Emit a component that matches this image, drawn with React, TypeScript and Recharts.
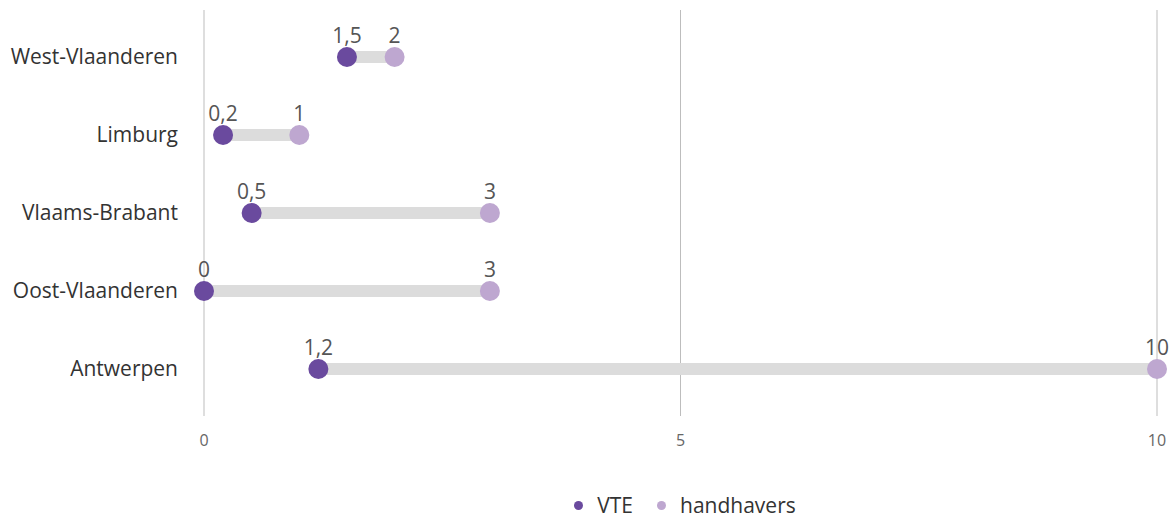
import { ComposedChart, Bar, Line, XAxis, YAxis, CartesianGrid, Legend, LabelList } from 'recharts';

const provinces = ['West-Vlaanderen', 'Limburg', 'Vlaams-Brabant', 'Oost-Vlaanderen', 'Antwerpen'];
const vte = [1.5, 0.2, 0.5, 0, 1.2];
const handhavers = [2, 1, 3, 3, 10];
const xTicks = [0, 5, 10];

const VTE_COLOR = '#6a4a9e';
const HAND_COLOR = '#bea7d0';
const FONT = '"Open Sans", sans-serif';

const data = provinces.map((name, i) => ({
  name,
  vte: vte[i],
  handhavers: handhavers[i],
  range: [vte[i], handhavers[i]],
}));

const fmt = (v: number) => String(v).replace('.', ',');

function Dot({ cx, cy, fill }: any) {
  if (cx == null || cy == null) return null;
  return <circle cx={cx} cy={cy} r={10} fill={fill} />;
}

function LegendContent() {
  const items = [
    { label: 'VTE', color: VTE_COLOR },
    { label: 'handhavers', color: HAND_COLOR },
  ];
  return (
    <div
      style={{
        display: 'flex',
        justifyContent: 'center',
        gap: 24,
        paddingLeft: 198,
        height: 28,
        fontFamily: FONT,
        fontSize: 21,
        color: '#333',
      }}
    >
      {items.map((it) => (
        <span key={it.label} style={{ display: 'flex', alignItems: 'center' }}>
          <span style={{ width: 9, height: 9, borderRadius: '50%', background: it.color, marginRight: 14 }} />
          {it.label}
        </span>
      ))}
    </div>
  );
}

export default function App() {
  return (
    <>
      <style>{'body { margin: 0; }'}</style>
      <ComposedChart
        width={1172}
        height={518}
        data={data}
        layout="vertical"
        margin={{ top: 10, right: 15, bottom: 34, left: 0 }}
        style={{ fontFamily: FONT }}
      >
        <CartesianGrid horizontal={false} stroke="#bdbdbd" />
        <XAxis
          type="number"
          domain={[0, 10]}
          ticks={xTicks}
          axisLine={false}
          tickLine={false}
          tick={{ fontSize: 16, fill: '#666' }}
          tickMargin={13}
          height={40}
        />
        <YAxis
          type="category"
          dataKey="name"
          width={204}
          axisLine={false}
          tickLine={false}
          tickMargin={20}
          padding={{ top: 8, bottom: 8 }}
          tick={{ fontSize: 21, fill: '#333' }}
        />
        <Legend
          verticalAlign="bottom"
          content={<LegendContent />}
          wrapperStyle={{ top: 491, left: 0, width: 1172 }}
        />
        <Bar dataKey="range" barSize={12} fill="#dcdcdc" isAnimationActive={false} legendType="none" />
        <Line
          dataKey="vte"
          stroke="none"
          dot={<Dot fill={VTE_COLOR} />}
          activeDot={false}
          isAnimationActive={false}
        >
          <LabelList dataKey="vte" position="top" offset={14} formatter={fmt} style={{ fontSize: 21, fill: '#555' }} />
        </Line>
        <Line
          dataKey="handhavers"
          stroke="none"
          dot={<Dot fill={HAND_COLOR} />}
          activeDot={false}
          isAnimationActive={false}
        >
          <LabelList dataKey="handhavers" position="top" offset={14} formatter={fmt} style={{ fontSize: 21, fill: '#555' }} />
        </Line>
      </ComposedChart>
    </>
  );
}
